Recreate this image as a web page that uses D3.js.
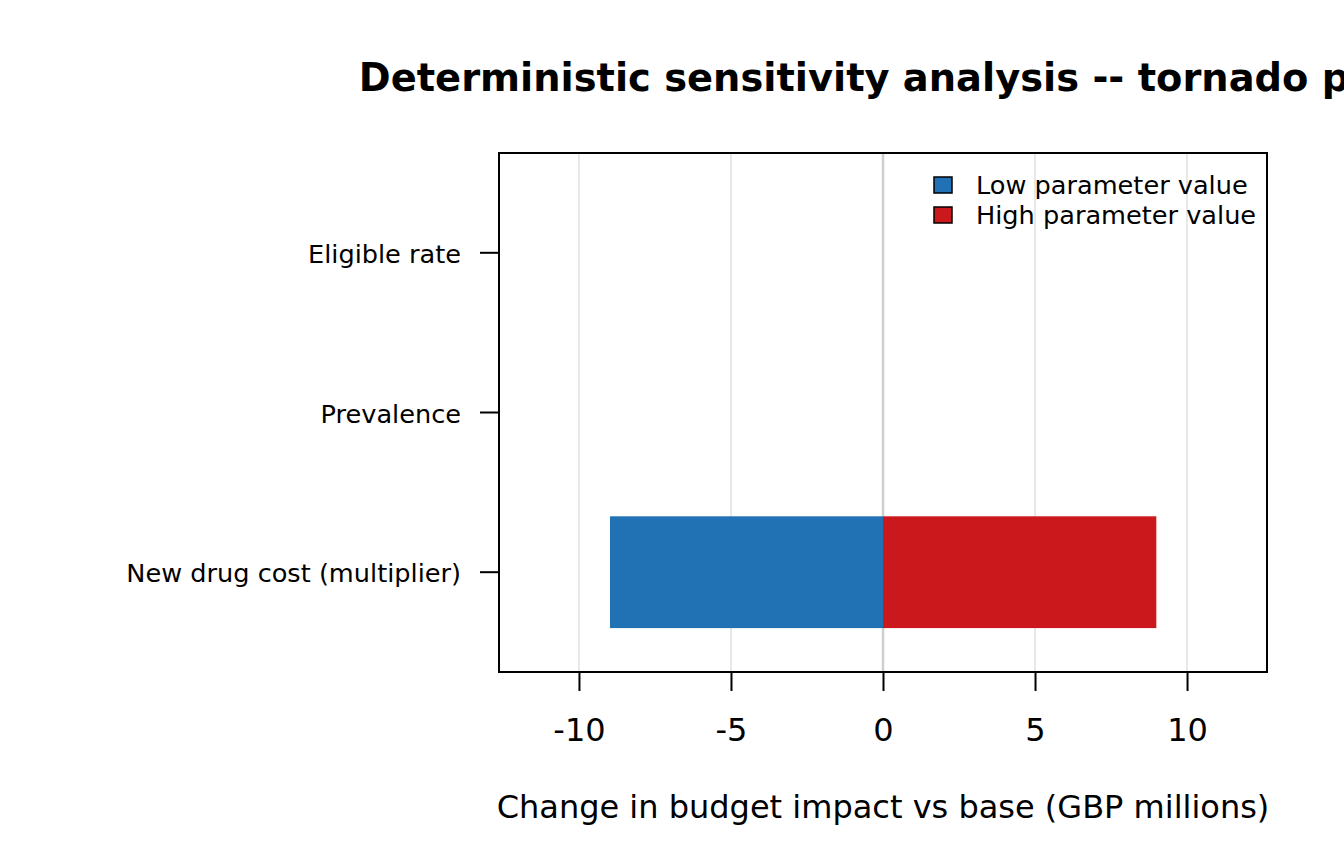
<!DOCTYPE html>
<html>
<head>
<meta charset="utf-8">
<script src="https://cdn.jsdelivr.net/npm/d3@7"></script>
<style>
  body { margin: 0; background: #fff; }
  svg { display: block; font-family: "DejaVu Sans", sans-serif; }
</style>
</head>
<body>
<svg id="chart"></svg>
<script>
// parameters, top to bottom as drawn
var params = ["Eligible rate", "Prevalence", "New drug cost (multiplier)"];
var lowVals = [0, 0, -8.98];
var highVals = [0, 0, 8.99];
var xTicks = [-10, -5, 0, 5, 10];
var legendLabels = ["Low parameter value", "High parameter value"];
var colors = ["#2171b5", "#cb181d"];

var width = 1344;
var height = 864;
// plot box edges (note: "top" is taken by window.top)
var plotLeft = 499, plotRight = 1267, plotTop = 153, plotBottom = 672;

var svg = d3.select("#chart")
            .attr("width", width)
            .attr("height", height);

var x = d3.scaleLinear()
          .domain([-12.63, 12.63])
          .range([plotLeft, plotRight]);

var y = d3.scaleBand()
          .domain(params)
          .range([plotTop, plotBottom])
          .paddingInner(0.3)
          .paddingOuter(0.275);

// grid lines
svg.selectAll("line.grid")
   .data(xTicks)
   .enter()
   .append("line")
   .attr("class", "grid")
   .attr("x1", function(d) { return x(d); })
   .attr("x2", function(d) { return x(d); })
   .attr("y1", plotTop)
   .attr("y2", plotBottom)
   .attr("stroke", function(d) { return d === 0 ? "#cfcfcf" : "#e8e8e8"; })
   .attr("stroke-width", function(d) { return d === 0 ? 2.5 : 2; });

var rows = params.map(function(p, i) {
  return {name: p, low: lowVals[i], high: highVals[i]};
});

// low bars
svg.selectAll("rect.low")
   .data(rows)
   .enter()
   .append("rect")
   .attr("class", "low")
   .attr("x", function(d) { return x(Math.min(0, d.low)); })
   .attr("y", function(d) { return y(d.name); })
   .attr("width", function(d) { return Math.abs(x(d.low) - x(0)); })
   .attr("height", y.bandwidth())
   .attr("fill", colors[0]);

// high bars
svg.selectAll("rect.high")
   .data(rows)
   .enter()
   .append("rect")
   .attr("class", "high")
   .attr("x", function(d) { return x(Math.min(0, d.high)); })
   .attr("y", function(d) { return y(d.name); })
   .attr("width", function(d) { return Math.abs(x(d.high) - x(0)); })
   .attr("height", y.bandwidth())
   .attr("fill", colors[1]);

// plot box
svg.append("rect")
   .attr("x", plotLeft)
   .attr("y", plotTop)
   .attr("width", plotRight - plotLeft)
   .attr("height", plotBottom - plotTop)
   .attr("fill", "none")
   .attr("stroke", "#000")
   .attr("stroke-width", 2);

// x axis
var xAxis = svg.append("g")
   .attr("transform", "translate(0," + plotBottom + ")")
   .call(d3.axisBottom(x).tickValues(xTicks).tickSize(19).tickFormat(d3.format("d")));
xAxis.select(".domain").remove();
xAxis.selectAll(".tick line").attr("stroke", "#000").attr("stroke-width", 2);
xAxis.selectAll(".tick text")
     .attr("y", 69)
     .attr("dy", null)
     .attr("fill", "#000")
     .style("font-size", "32px")
     .style("font-family", "DejaVu Sans")
     .text(function(d) { return d < 0 ? "-" + Math.abs(d) : d; });

// y axis
var yAxis = svg.append("g")
   .attr("transform", "translate(" + plotLeft + ",0)")
   .call(d3.axisLeft(y).tickSize(19).tickPadding(19));
yAxis.select(".domain").remove();
yAxis.selectAll(".tick line").attr("stroke", "#000").attr("stroke-width", 2);
yAxis.selectAll(".tick text")
     .attr("dy", "0.4em")
     .attr("fill", "#000")
     .style("font-size", "25.6px")
     .style("font-family", "DejaVu Sans");

// axis title
svg.append("text")
   .attr("x", (plotLeft + plotRight) / 2)
   .attr("y", 818)
   .attr("text-anchor", "middle")
   .style("font-size", "32px")
   .text("Change in budget impact vs base (GBP millions)");

// main title
svg.append("text")
   .attr("x", (plotLeft + plotRight) / 2)
   .attr("y", 91)
   .attr("text-anchor", "middle")
   .style("font-size", "38.4px")
   .style("font-weight", "bold")
   .text("Deterministic sensitivity analysis -- tornado plot");

// legend
var legend = svg.selectAll("g.legend")
   .data(legendLabels)
   .enter()
   .append("g")
   .attr("class", "legend")
   .attr("transform", function(d, i) { return "translate(934," + (177 + i * 30) + ")"; });

legend.append("rect")
      .attr("width", 18)
      .attr("height", 16)
      .attr("fill", function(d, i) { return colors[i]; })
      .attr("stroke", "#000")
      .attr("stroke-width", 1.5);

legend.append("text")
      .attr("x", 42)
      .attr("y", 17)
      .style("font-size", "25.6px")
      .text(function(d) { return d; });
</script>
</body>
</html>
